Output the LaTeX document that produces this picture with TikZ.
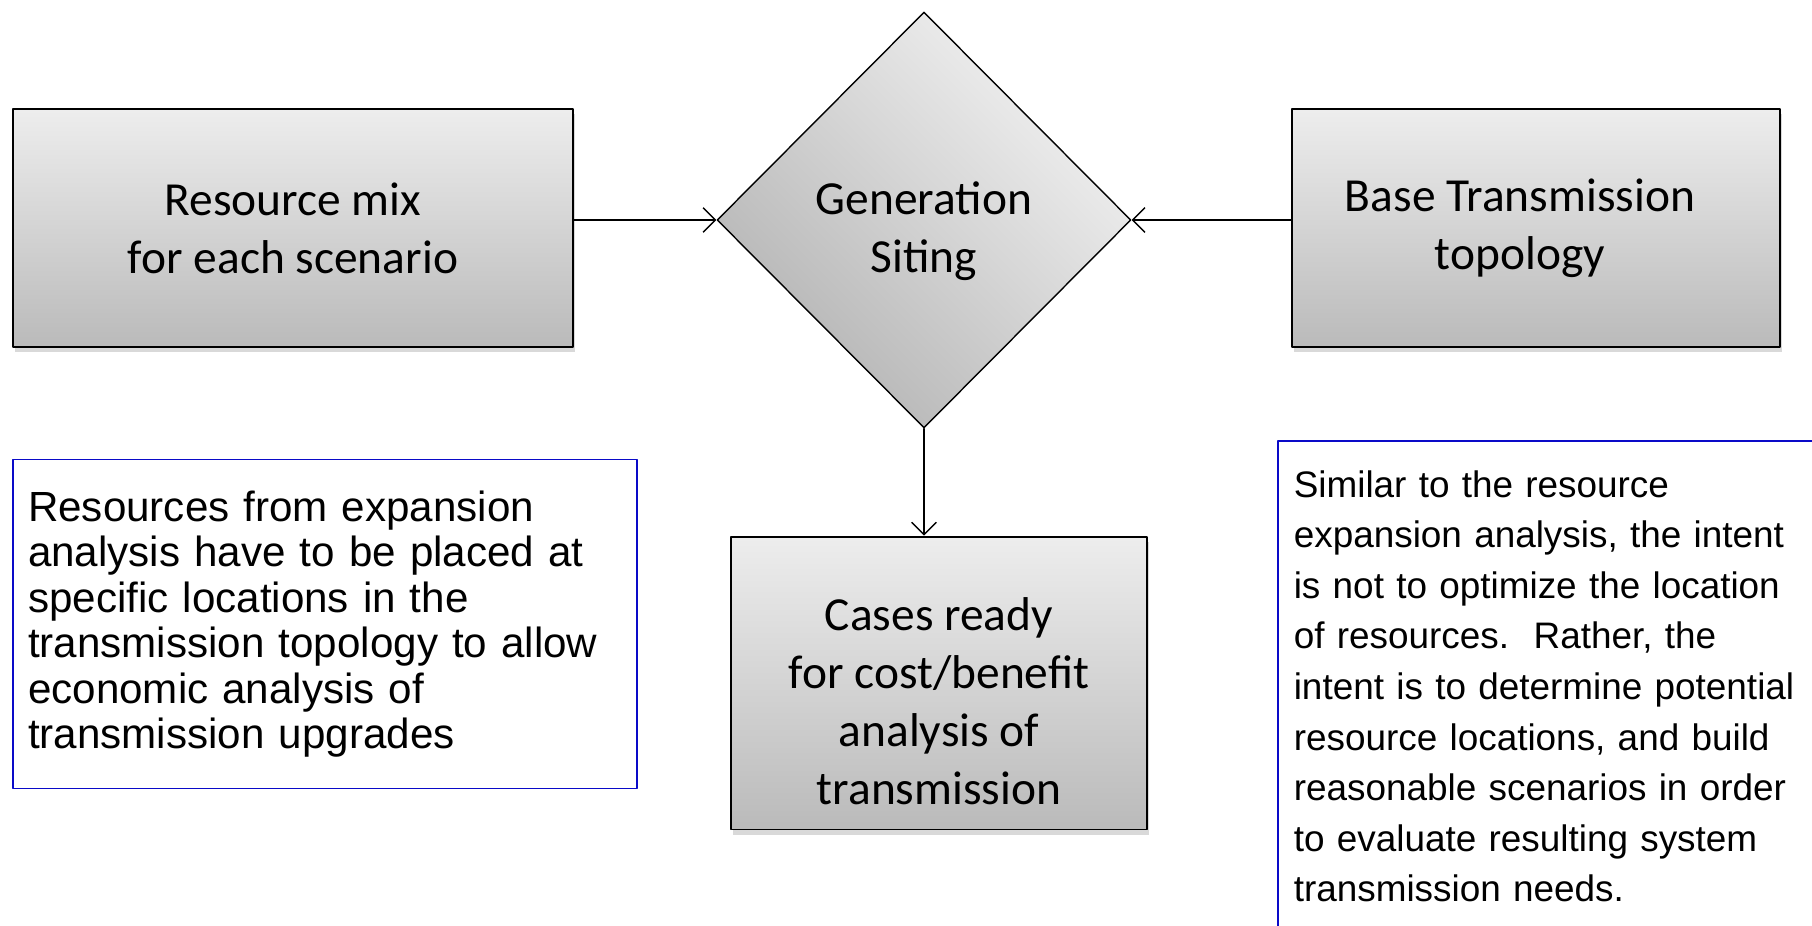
\documentclass[tikz,border=0pt]{standalone}
\usepackage{fontspec}
\setmainfont{Carlito}
\newfontfamily\notefont{Liberation Sans}
\usetikzlibrary{shapes.geometric,shadows,arrows.meta}
\definecolor{noteblue}{RGB}{10,10,200}

\begin{document}
\begin{tikzpicture}[x=0.02cm, y=-0.02cm, line join=round, line cap=round,
    boxtext/.style={align=center, inner sep=0pt, font=\fontsize{27}{33}\selectfont},
    box/.style={draw, line width=1.1pt, top color=black!7, bottom color=black!27, boxtext,
      drop shadow={shadow xshift=1pt, shadow yshift=-3pt, opacity=0.3}},
    decision/.style={diamond, draw, line width=0.8pt, top color=black!5, bottom color=black!30,
      shading angle=-45, inner sep=0pt},
    note/.style={draw=noteblue, line width=0.9pt, fill=white, align=left, inner xsep=0.3cm,
      font=\notefont\fontsize{24}{25.9}\selectfont},
    flow/.style={-{Straight Barb[length=7pt, width=14pt]}, line width=0.8pt}]
  \useasboundingbox (0,0) rectangle (1812,926);
  % Hàng trên
  \node[box, minimum width=11.2cm, minimum height=4.76cm] (mix) at (293,228) {Resource mix\\for each scenario};
  \node[decision, minimum width=8.28cm, minimum height=8.32cm,
    label={[boxtext, yshift=-0.23cm]center:{Generation\\Siting}}] (siting) at (924,220) {};
  \node[box, minimum width=9.76cm, minimum height=4.76cm,
    label={[boxtext, xshift=-0.32cm]center:{Base Transmission\\topology}}] (topo) at (1536,228) {};
  % Hàng dưới
  \node[box, minimum width=8.32cm, minimum height=5.86cm,
    label={[boxtext, yshift=-0.37cm]center:{Cases ready\\for cost/benefit\\analysis of\\transmission}}] (cases) at (939,683) {};
  \node[note, text width=11.88cm, minimum height=6.58cm] (leftnote) at (325,624) {Resources from expansion\\analysis have to be placed at\\specific locations in the\\transmission topology to allow\\economic analysis of\\transmission upgrades};
  \node[note, draw=none, fill=none, anchor=north west, text width=12cm, inner ysep=0.57cm,
    font=\notefont\fontsize{21}{28.8}\selectfont] (rightnote) at (1278,441) {Similar to the resource\\expansion analysis, the intent\\is not to optimize the location\\of resources.\ \ Rather, the\\intent is to determine potential\\resource locations, and build\\reasonable scenarios in order\\to evaluate resulting system\\transmission needs.};
  \draw[draw=noteblue, line width=0.9pt] (rightnote.north west) rectangle ++(700,600);
  % Mũi tên
  \draw[flow] (mix.east |- siting.west) -- (siting.west);
  \draw[flow] (topo.west |- siting.east) -- (siting.east);
  \draw[flow] (siting.south) -- (siting.south |- cases.north);
\end{tikzpicture}
\end{document}
